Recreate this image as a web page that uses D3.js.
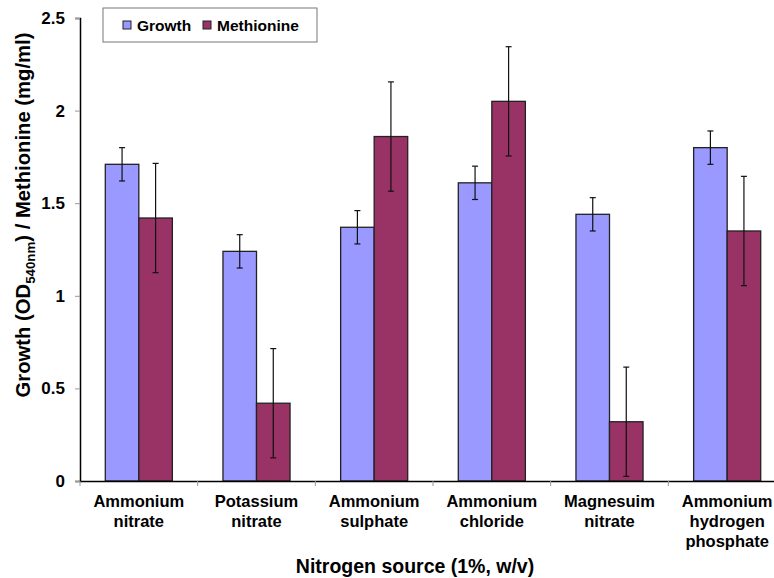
<!DOCTYPE html>
<html>
<head>
<meta charset="utf-8">
<script src="https://cdn.jsdelivr.net/npm/d3@7"></script>
<style>
  body { margin: 0; background: #fff; }
  text { font-family: Arial, "Liberation Sans", sans-serif; font-weight: bold; fill: #000; }
</style>
</head>
<body>
<div id="chart"></div>
<script>
// Chart data
var categories = [
  ["Ammonium", "nitrate"],
  ["Potassium", "nitrate"],
  ["Ammonium", "sulphate"],
  ["Ammonium", "chloride"],
  ["Magnesuim", "nitrate"],
  ["Ammonium", "hydrogen", "phosphate"]
];
var seriesNames = ["Growth", "Methionine"];
var growth = [1.71, 1.24, 1.37, 1.61, 1.44, 1.80];
var methionine = [1.42, 0.42, 1.86, 2.05, 0.32, 1.35];
var growthErr = [0.09, 0.09, 0.09, 0.09, 0.09, 0.09];
var methionineErr = [0.295, 0.295, 0.295, 0.295, 0.295, 0.295];
var yTicks = [0, 0.5, 1, 1.5, 2, 2.5];

var colors = ["#9999FF", "#993366"];

var svgWidth = 774;
var svgHeight = 578;

var margin = { top: 18, right: -12, bottom: 97, left: 80 };
var width = svgWidth - margin.left - margin.right;
var height = svgHeight - margin.top - margin.bottom;

var svg = d3.select("#chart")
  .append("svg")
  .attr("width", svgWidth)
  .attr("height", svgHeight);

var chartGroup = svg.append("g")
  .attr("transform", `translate(${margin.left}, ${margin.top})`);

// build rows for binding
var rows = categories.map(function (c, i) {
  return {
    idx: i,
    values: [
      { s: 0, v: growth[i], e: growthErr[i] },
      { s: 1, v: methionine[i], e: methionineErr[i] }
    ]
  };
});

var xScale = d3.scaleBand()
  .domain(d3.range(categories.length))
  .range([0, width])
  .paddingInner(0)
  .paddingOuter(0);

var bw = xScale.bandwidth();
var xInner = d3.scaleBand()
  .domain([0, 1])
  .range([bw * 0.215, bw * 0.785]);

var yScale = d3.scaleLinear()
  .domain([0, 2.5])
  .range([height, 0]);

// y axis
var leftAxis = d3.axisLeft(yScale)
  .tickValues(yTicks)
  .tickFormat(d3.format("~g"))
  .tickSize(5)
  .tickPadding(10);

var yAxisG = chartGroup.append("g").call(leftAxis);
yAxisG.select(".domain").attr("stroke", "#000").attr("stroke-width", 1.5);
yAxisG.selectAll(".tick line").attr("stroke", "#999");
yAxisG.selectAll(".tick text")
  .style("font-size", "17px")
  .style("font-weight", "bold")
  .attr("font-family", "Arial, 'Liberation Sans', sans-serif");

// bars
var groups = chartGroup.selectAll(".grp")
  .data(rows)
  .enter()
  .append("g")
  .attr("class", "grp")
  .attr("transform", d => `translate(${xScale(d.idx)}, 0)`);

groups.selectAll("rect")
  .data(d => d.values)
  .enter()
  .append("rect")
  .attr("x", d => xInner(d.s))
  .attr("y", d => yScale(d.v))
  .attr("width", xInner.bandwidth())
  .attr("height", d => height - yScale(d.v))
  .attr("fill", d => colors[d.s])
  .attr("stroke", "#222")
  .attr("stroke-width", 1.3);

// error bars
var errG = groups.selectAll(".err")
  .data(d => d.values)
  .enter()
  .append("g")
  .attr("class", "err")
  .attr("stroke", "#111")
  .attr("stroke-width", 1.2);

errG.append("line")
  .attr("x1", d => xInner(d.s) + xInner.bandwidth() / 2)
  .attr("x2", d => xInner(d.s) + xInner.bandwidth() / 2)
  .attr("y1", d => yScale(d.v + d.e))
  .attr("y2", d => yScale(d.v - d.e));

[1, -1].forEach(function (sgn) {
  errG.append("line")
    .attr("x1", d => xInner(d.s) + xInner.bandwidth() / 2 - 3)
    .attr("x2", d => xInner(d.s) + xInner.bandwidth() / 2 + 3)
    .attr("y1", d => yScale(d.v + sgn * d.e))
    .attr("y2", d => yScale(d.v + sgn * d.e));
});

// x axis
var bottomAxis = d3.axisBottom(xScale)
  .tickValues([])
  .tickSizeOuter(0);

var xAxisG = chartGroup.append("g")
  .attr("transform", `translate(0, ${height})`)
  .call(bottomAxis);
xAxisG.select(".domain").attr("stroke", "#000").attr("stroke-width", 1.5);

// category separators ticks
xAxisG.selectAll(".sep")
  .data(d3.range(categories.length))
  .enter()
  .append("line")
  .attr("x1", d => xScale(d))
  .attr("x2", d => xScale(d))
  .attr("y1", 0)
  .attr("y2", 5)
  .attr("stroke", "#999");

// category labels
var catLabels = xAxisG.selectAll(".cat")
  .data(categories)
  .enter()
  .append("text")
  .attr("class", "cat")
  .attr("text-anchor", "middle")
  .style("font-size", "16.5px")
  .attr("x", (d, i) => xScale(i) + bw / 2)
  .attr("y", 26);

catLabels.selectAll("tspan")
  .data(d => d)
  .enter()
  .append("tspan")
  .attr("x", function () { return d3.select(this.parentNode).attr("x"); })
  .attr("dy", (d, i) => i === 0 ? 0 : 20)
  .text(d => d);

// axis titles
svg.append("text")
  .attr("x", 415)
  .attr("y", 573)
  .attr("text-anchor", "middle")
  .style("font-size", "19.5px")
  .text("Nitrogen source (1%, w/v)");

// y title: sized so it spans about y=32..398 like the original
var yTitle = svg.append("text")
  .attr("transform", "translate(30, 215) rotate(-90)")
  .attr("text-anchor", "middle")
  .style("font-size", "19px");
yTitle.append("tspan").text("Growth (OD");
var subSpan = yTitle.append("tspan").attr("dy", 5).style("font-size", "12.5px").text("540nm");
yTitle.append("tspan").attr("dy", -5).text(") / Methionine (mg/ml)");

var len = yTitle.node().getComputedTextLength();
var k = 365 / len;
yTitle.style("font-size", (19 * k) + "px");
subSpan.style("font-size", (12.5 * k) + "px");

// legend
var legend = svg.append("g").attr("transform", "translate(103, 8)");
legend.append("rect")
  .attr("width", 214)
  .attr("height", 34)
  .attr("fill", "#fff")
  .attr("stroke", "#777")
  .attr("stroke-width", 1);

var legendX = [20, 100];
seriesNames.forEach(function (name, i) {
  legend.append("rect")
    .attr("x", legendX[i])
    .attr("y", 13)
    .attr("width", 8)
    .attr("height", 8)
    .attr("fill", colors[i])
    .attr("stroke", "#222")
    .attr("stroke-width", 1);
  legend.append("text")
    .attr("x", legendX[i] + 14)
    .attr("y", 23)
    .style("font-size", "15.5px")
    .text(name);
});
</script>
</body>
</html>
